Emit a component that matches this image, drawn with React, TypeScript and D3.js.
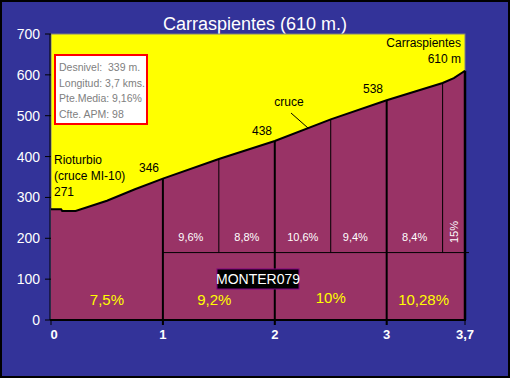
import React from "react";
import * as d3 from "d3";

const title = "Carraspientes (610 m.)";
const profileKm = [0, 0.09, 0.1, 0.22, 0.5, 0.75, 1, 1.5, 2, 2.5, 3, 3.5, 3.6, 3.7];
const profileAlt = [271, 271, 267, 267, 292, 320, 346, 394, 438, 491, 538, 580, 592, 610];
const kmMarks = [1, 2, 3];
const halfMarks = [1.5, 2.5, 3.5];
const kmSlopes = ["7,5%", "9,2%", "10%", "10,28%"];
const kmSlopeX = [0.5, 1.46, 2.5, 3.33];
const halfSlopes = ["9,6%", "8,8%", "10,6%", "9,4%", "8,4%"];
const halfSlopeX = [1.25, 1.75, 2.25, 2.72, 3.25];
const yTicks = [0, 100, 200, 300, 400, 500, 600, 700];
const xTicks = [0, 1, 2, 3, 3.7];
const xTickLabels = ["0", "1", "2", "3", "3,7"];
const infoLines = ["Desnivel:\u00a0 339 m.", "Longitud: 3,7 kms.", "Pte.Media: 9,16%", "Cfte. APM: 98"];
const bandAlt = 165;

export default function App() {
  const W = 510, H = 378;
  const x = d3.scaleLinear().domain([0, 3.7]).range([51, 465]);
  const y = d3.scaleLinear().domain([0, 700]).range([320, 34]);
  const pts: [number, number][] = profileKm.map((k, i) => [k, profileAlt[i]]);
  const area = d3.area<[number, number]>().x(d => x(d[0])).y0(y(0)).y1(d => y(d[1]));
  const line = d3.line<[number, number]>().x(d => x(d[0])).y(d => y(d[1]));
  const altAt = (k: number) => {
    const i = d3.bisectLeft(profileKm, k);
    if (profileKm[i] === k) return profileAlt[i];
    const k0 = profileKm[i - 1], k1 = profileKm[i];
    return profileAlt[i - 1] + (profileAlt[i] - profileAlt[i - 1]) * (k - k0) / (k1 - k0);
  };
  const font = "Arial, 'Liberation Sans', sans-serif";
  return (
    <div style={{ position: "fixed", left: 0, top: 0 }}>
      <svg width={W} height={H} style={{ display: "block" }} fontFamily={font}>
        <rect x={1} y={1} width={W - 2} height={H - 2} fill="#333399" stroke="#000" strokeWidth={2} />
        <text x={255} y={30} textAnchor="middle" fill="#fff" fontSize={18}>{title}</text>
        <rect x={x(0)} y={y(700)} width={x(3.7) - x(0)} height={y(0) - y(700)} fill="#ffff00" stroke="#808080" strokeWidth={1} />
        <path d={area(pts) || ""} fill="#993366" />
        <path d={line(pts) || ""} fill="none" stroke="#000" strokeWidth={2} />
        <line x1={x(1)} x2={x(3.7) + 4} y1={y(bandAlt)} y2={y(bandAlt)} stroke="#000" strokeWidth={1} />
        {halfMarks.map(k => (
          <line key={k} x1={x(k)} x2={x(k)} y1={y(bandAlt)} y2={y(altAt(k))} stroke="#000" strokeWidth={1} />
        ))}
        {kmMarks.map(k => (
          <line key={k} x1={x(k)} x2={x(k)} y1={y(0) + 5} y2={y(altAt(k))} stroke="#000" strokeWidth={2} />
        ))}
        <line x1={x(3.7)} x2={x(3.7)} y1={y(0)} y2={y(altAt(3.7))} stroke="#000" strokeWidth={2.5} />
        <line x1={x(0) - 1} x2={x(0) - 1} y1={y(700)} y2={y(0)} stroke="#000" strokeWidth={1} />
        <line x1={x(0) - 1} x2={x(3.7) + 1} y1={y(0)} y2={y(0)} stroke="#000" strokeWidth={2} />
        {yTicks.map(t => (
          <g key={t}>
            <line x1={x(0) - 6} x2={x(0)} y1={y(t)} y2={y(t)} stroke="#000" />
            <text x={40} y={y(t) + 5} textAnchor="end" fill="#fff" fontSize={14}>{t}</text>
          </g>
        ))}
        {xTicks.map((t, i) => (
          <g key={t}>
            <line x1={x(t)} x2={x(t)} y1={y(0)} y2={y(0) + 5} stroke="#000" />
            <text x={x(t) + (i === 0 ? 3 : 0)} y={339} textAnchor="middle" fill="#fff" fontSize={13} fontWeight="bold">{xTickLabels[i]}</text>
          </g>
        ))}
        <rect x={55} y={55} width={92} height={69} fill="#ffffff" stroke="#ff0000" strokeWidth={2} />
        {infoLines.map((s, i) => (
          <text key={i} x={59} y={71 + i * 15.5} fill="#808080" fontSize={10.5}>{s}</text>
        ))}
        <g fill="#000" fontSize={12}>
          <text x={54} y={164}>Rioturbio</text>
          <text x={54} y={180}>(cruce MI-10)</text>
          <text x={54} y={196}>271</text>
          <text x={149} y={172} textAnchor="middle">346</text>
          <text x={262} y={135} textAnchor="middle">438</text>
          <text x={373} y={93} textAnchor="middle">538</text>
          <text x={461} y={47} textAnchor="end">Carraspientes</text>
          <text x={461} y={63} textAnchor="end">610 m</text>
          <text x={289} y={106} textAnchor="middle">cruce</text>
        </g>
        <line x1={291} y1={113} x2={308} y2={128} stroke="#000" strokeWidth={1} />
        {halfSlopes.map((s, i) => (
          <text key={i} x={x(halfSlopeX[i])} y={241} textAnchor="middle" fill="#fff" fontSize={11}>{s}</text>
        ))}
        <text x={0} y={0} transform={`translate(${x(3.6) + 4},232) rotate(-90)`} textAnchor="middle" fill="#fff" fontSize={11}>15%</text>
        {kmSlopes.map((s, i) => (
          <text key={i} x={x(kmSlopeX[i])} y={i === 2 ? 303 : 305} textAnchor="middle" fill="#ffff00" fontSize={15}>{s}</text>
        ))}
        <rect x={217} y={269} width={82} height={20} fill="#000" stroke="#800080" strokeWidth={1} />
        <text x={258} y={284} textAnchor="middle" fill="#fff" fontSize={14}>MONTER079</text>
      </svg>
    </div>
  );
}
